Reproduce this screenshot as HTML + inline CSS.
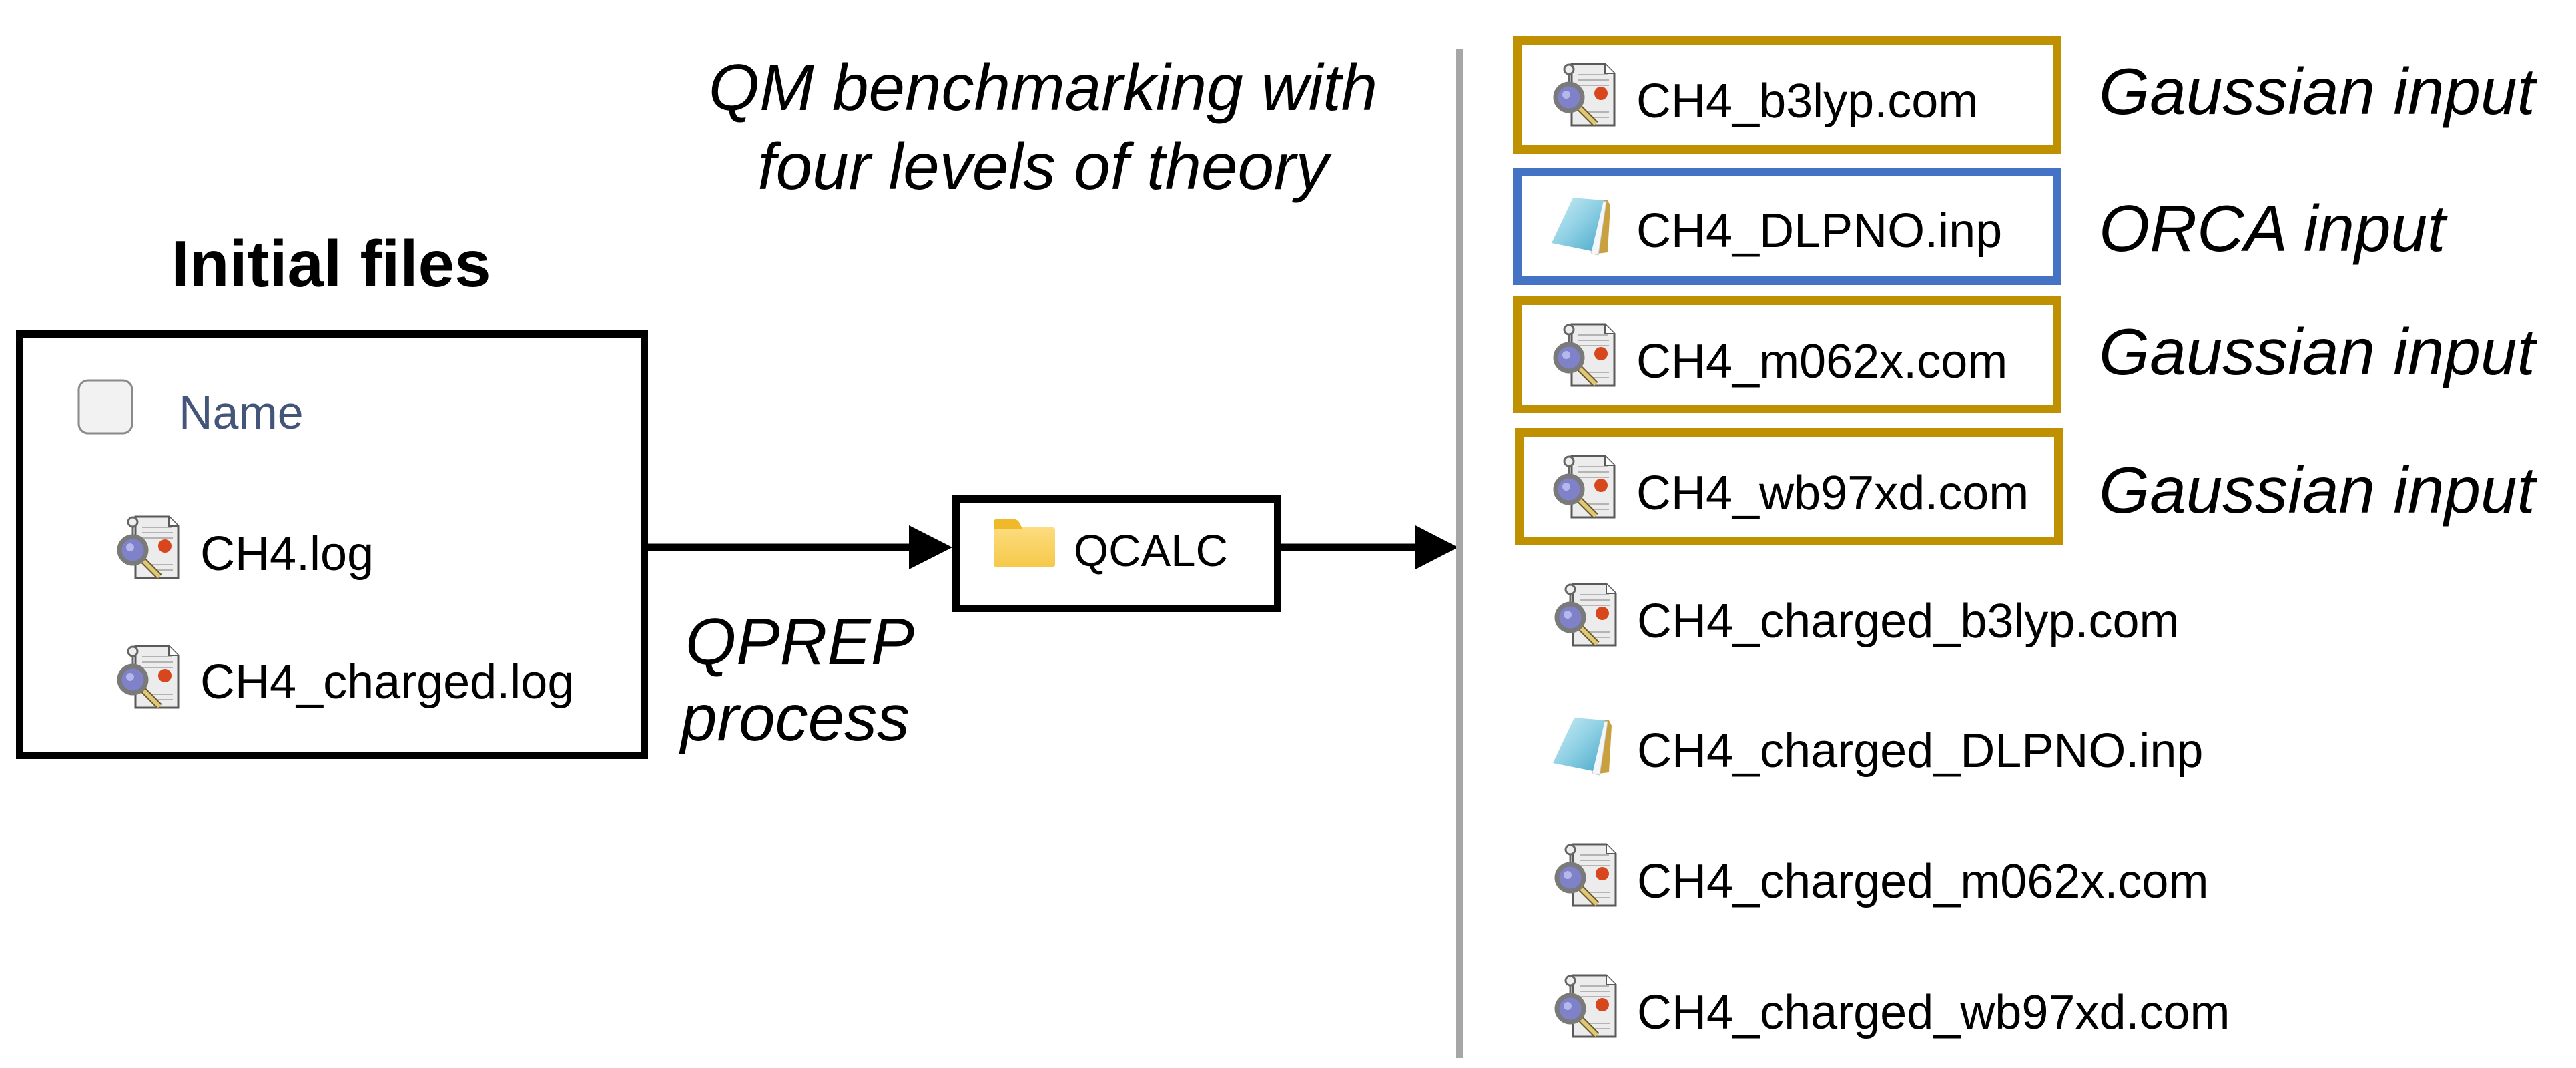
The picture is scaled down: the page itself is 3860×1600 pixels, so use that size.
<!DOCTYPE html>
<html><head><meta charset="utf-8"><style>
html,body{margin:0;padding:0;background:#fff;}
svg{display:block;}
</style></head><body>
<svg width="3860" height="1600" viewBox="0 0 3860 1600" xmlns="http://www.w3.org/2000/svg">
<defs>
  <linearGradient id="np" x1="0" y1="0" x2="1" y2="1">
    <stop offset="0" stop-color="#cdeef6"/><stop offset="0.5" stop-color="#8fd0e4"/><stop offset="1" stop-color="#4aa9c9"/>
  </linearGradient>
  <linearGradient id="fd" x1="0" y1="0" x2="0" y2="1">
    <stop offset="0" stop-color="#fde08a"/><stop offset="1" stop-color="#f6c94a"/>
  </linearGradient>
  <g id="gic">
    <path d="M30 4 H80 L94 18 V96 H30 Z" fill="#ececec" stroke="#5a5a5a" stroke-width="3"/>
    <path d="M80 4 V18 H94" fill="#fff" stroke="#5a5a5a" stroke-width="2"/>
    <g stroke="#b4b4b4" stroke-width="2">
      <line x1="40" y1="20" x2="84" y2="20"/><line x1="40" y1="28" x2="86" y2="28"/><line x1="40" y1="36" x2="86" y2="36"/>
      <line x1="52" y1="76" x2="86" y2="76"/><line x1="56" y1="84" x2="86" y2="84"/>
    </g>
    <circle cx="26" cy="12" r="7" fill="#eee" stroke="#666" stroke-width="3"/>
    <line x1="26" y1="19" x2="26" y2="36" stroke="#666" stroke-width="3"/>
    <line x1="40" y1="68" x2="66" y2="94" stroke="#6a5a2a" stroke-width="10"/>
    <line x1="40" y1="68" x2="66" y2="94" stroke="#e0c878" stroke-width="6"/>
    <circle cx="26" cy="54" r="20" fill="#7f82c8" stroke="#7a7a7a" stroke-width="7"/>
    <circle cx="22" cy="50" r="6" fill="#b4b8ea"/>
    <circle cx="74" cy="48" r="10" fill="#d8461e"/>
  </g>
  <g id="nic">
    <path d="M40 6 L86 8 L90 16 L86 86 L70 88 Z" fill="#c8a040"/>
    <path d="M40 6 L84 10 L72 90 L62 88 Z" fill="#f4f6f8" stroke="#ccc" stroke-width="1"/>
    <path d="M34 4 L80 8 L62 84 L2 72 Z" fill="url(#np)"/>
  </g>
</defs>

<!-- Left title -->
<text x="496" y="429" text-anchor="middle" font-family="Liberation Sans, sans-serif" font-weight="bold" font-size="98" fill="#000">Initial files</text>

<!-- Left box -->
<rect x="29.5" y="500.5" width="936" height="631" fill="none" stroke="#000" stroke-width="11"/>
<rect x="118" y="570" width="80" height="79" rx="14" fill="#f2f2f2" stroke="#8a8a8a" stroke-width="3"/>
<text x="268" y="642" font-family="Liberation Sans, sans-serif" font-size="70" fill="#44557a">Name</text>
<use href="#gic" x="173" y="770"/>
<text x="300" y="854" font-family="Liberation Sans, sans-serif" font-size="72" fill="#000">CH4.log</text>
<use href="#gic" x="173" y="964"/>
<text x="300" y="1046" font-family="Liberation Sans, sans-serif" font-size="72" fill="#000">CH4_charged.log</text>

<!-- Arrow 1 -->
<line x1="966" y1="820" x2="1365" y2="820" stroke="#000" stroke-width="11"/>
<polygon points="1362,787 1427,820 1362,853" fill="#000"/>

<!-- QCALC box -->
<rect x="1432.5" y="747.5" width="482" height="164" fill="#fff" stroke="#000" stroke-width="11"/>
<path d="M1489 782 Q1489 778 1493 778 H1520 Q1525 778 1528 784 L1531 790 H1577 Q1581 790 1581 794 V846 Q1581 849 1577 849 H1493 Q1489 849 1489 846 Z" fill="url(#fd)"/>
<path d="M1489 782 Q1489 778 1493 778 H1520 Q1525 778 1528 784 L1532 792 H1489 Z" fill="#f0b92a"/>
<text x="1609" y="848" font-family="Liberation Sans, sans-serif" font-size="67" fill="#000">QCALC</text>

<!-- Arrow 2 -->
<line x1="1915" y1="820" x2="2124" y2="820" stroke="#000" stroke-width="11"/>
<polygon points="2121,787 2185,820 2121,853" fill="#000"/>

<!-- Gray divider -->
<rect x="2182" y="73" width="10" height="1512" fill="#a6a6a6"/>

<!-- Italic labels middle -->
<g font-family="Liberation Sans, sans-serif" font-style="italic" font-size="98" fill="#000">
  <text x="1563" y="165" text-anchor="middle">QM benchmarking with</text>
  <text x="1563" y="283" text-anchor="middle">four levels of theory</text>
  <text x="1027" y="995">QPREP</text>
  <text x="1020" y="1109">process</text>
</g>

<!-- Right boxes -->
<rect x="2273.5" y="60.5" width="809" height="163" fill="none" stroke="#bf9000" stroke-width="13"/>
<rect x="2273.5" y="257.5" width="809" height="163" fill="none" stroke="#4472c4" stroke-width="13"/>
<rect x="2273.5" y="450.5" width="809" height="162" fill="none" stroke="#bf9000" stroke-width="13"/>
<rect x="2276.5" y="647.5" width="808" height="163" fill="none" stroke="#bf9000" stroke-width="13"/>

<use href="#gic" x="2325" y="92"/>
<use href="#nic" x="2323" y="292"/>
<use href="#gic" x="2325" y="482"/>
<use href="#gic" x="2325" y="679"/>

<g font-family="Liberation Sans, sans-serif" font-size="72" fill="#000">
  <text x="2452" y="176">CH4_b3lyp.com</text>
  <text x="2452" y="370">CH4_DLPNO.inp</text>
  <text x="2452" y="566">CH4_m062x.com</text>
  <text x="2452" y="763">CH4_wb97xd.com</text>
  <text x="2453" y="955">CH4_charged_b3lyp.com</text>
  <text x="2453" y="1149">CH4_charged_DLPNO.inp</text>
  <text x="2453" y="1345">CH4_charged_m062x.com</text>
  <text x="2453" y="1541">CH4_charged_wb97xd.com</text>
</g>

<use href="#gic" x="2327" y="871"/>
<use href="#nic" x="2325" y="1071"/>
<use href="#gic" x="2327" y="1261"/>
<use href="#gic" x="2327" y="1457"/>

<g font-family="Liberation Sans, sans-serif" font-style="italic" font-size="98" fill="#000">
  <text x="3145" y="171">Gaussian input</text>
  <text x="3145" y="376">ORCA input</text>
  <text x="3145" y="561">Gaussian input</text>
  <text x="3145" y="768">Gaussian input</text>
</g>
</svg>
</body></html>
